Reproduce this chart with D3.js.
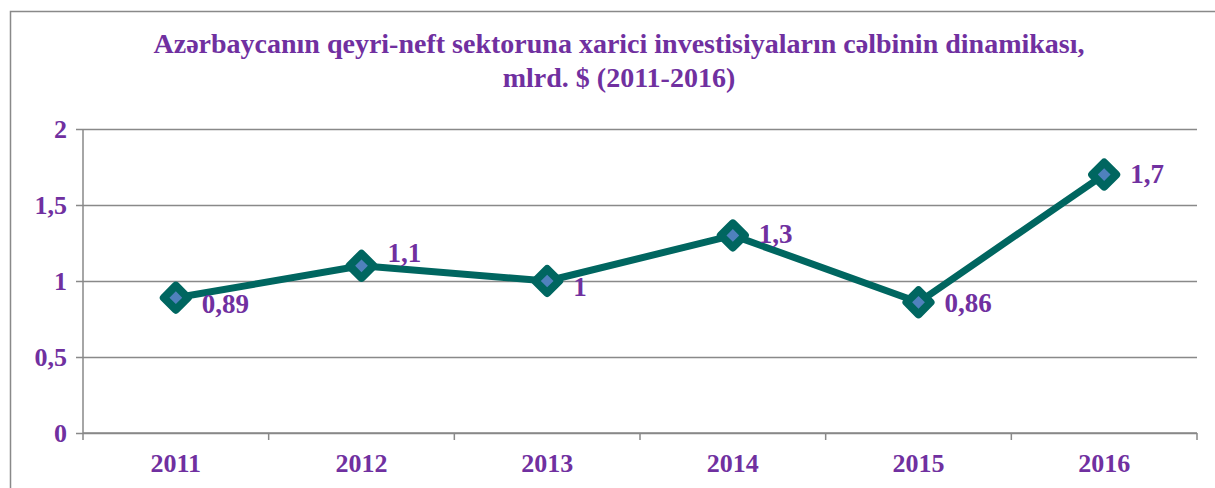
<!DOCTYPE html>
<html>
<head>
<meta charset="utf-8">
<script src="https://cdn.jsdelivr.net/npm/d3@7"></script>
<style>
  body { margin: 0; background: #fff; }
  text { font-family: "Liberation Serif", "Times New Roman", serif; font-weight: bold; fill: #7030a0; }
</style>
</head>
<body>
<div class="line-chart"></div>
<script>
var years = ['2011', '2012', '2013', '2014', '2015', '2016'];
var values = [0.89, 1.1, 1, 1.3, 0.86, 1.7];
var valueLabels = ['0,89', '1,1', '1', '1,3', '0,86', '1,7'];
var yTicks = [0, 0.5, 1, 1.5, 2];
var titleLines = ['Azərbaycanın qeyri-neft sektoruna xarici investisiyaların cəlbinin dinamikası,', 'mlrd. $ (2011-2016)'];

// small vertical nudges so labels sit like the original
var labelNudge = [7, -12, 7, 0, 2, 0];

var W = 1215, H = 488;
var margin = { top: 129, right: 18, bottom: 55, left: 83 };
var width = W - margin.left - margin.right;
var height = H - margin.top - margin.bottom;

var svg = d3.select('.line-chart').append('svg')
    .attr('width', W)
    .attr('height', H);

// outer frame
svg.append('rect')
    .attr('x', 10.5).attr('y', 11.5)
    .attr('width', W + 20).attr('height', H + 20)
    .attr('fill', 'none')
    .attr('stroke', '#898989')
    .attr('stroke-width', 1.5);

svg.append('text')
    .attr('x', 619)
    .attr('y', 53)
    .attr('text-anchor', 'middle')
    .style('font-size', '28px')
  .selectAll('tspan')
  .data(titleLines)
  .enter().append('tspan')
    .attr('x', 619)
    .attr('dy', function(d, i) { return i ? 34 : 0; })
    .text(function(d) { return d; });

var g = svg.append('g')
    .attr('transform', 'translate(' + margin.left + ',' + margin.top + ')');

var xScale = d3.scaleBand()
    .domain(years)
    .range([0, width]);

var yScale = d3.scaleLinear()
    .domain([0, 2])
    .range([height, 0]);

// gridlines + y axis
var yAxis = g.append('g')
    .attr('class', 'y axis')
    .call(d3.axisLeft(yScale)
      .tickValues(yTicks)
      .tickSize(-width)
      .tickPadding(16)
      .tickFormat(function(d) { return String(d).replace('.', ','); }));
yAxis.select('.domain').attr('stroke', '#898989').attr('stroke-width', 1.5).attr('d', 'M0,' + height + 'V0');
yAxis.selectAll('.tick line').attr('stroke', '#898989').attr('stroke-width', 1.5).attr('x1', -7);
yAxis.selectAll('.tick text').style('font-size', '26px').attr('fill', null).attr('dy', '0.32em');

// x axis with ticks between categories
var xAxis = g.append('g')
    .attr('class', 'x axis')
    .attr('transform', 'translate(0,' + height + ')');
xAxis.append('line')
    .attr('x1', 0).attr('x2', width)
    .attr('stroke', '#898989').attr('stroke-width', 1.5);
xAxis.selectAll('.sep')
  .data(d3.range(years.length + 1))
  .enter().append('line')
    .attr('x1', function(i) { return i * xScale.step(); })
    .attr('x2', function(i) { return i * xScale.step(); })
    .attr('y1', 0).attr('y2', 7)
    .attr('stroke', '#898989').attr('stroke-width', 1.5);
xAxis.selectAll('.lbl')
  .data(years)
  .enter().append('text')
    .attr('x', function(d) { return xScale(d) + xScale.bandwidth() / 2; })
    .attr('y', 39)
    .attr('text-anchor', 'middle')
    .style('font-size', '26px')
    .text(function(d) { return d; });

var pts = years.map(function(y, i) { return { year: y, value: values[i], label: valueLabels[i], nudge: labelNudge[i] }; });

var line = d3.line()
    .x(function(d) { return xScale(d.year) + xScale.bandwidth() / 2; })
    .y(function(d) { return yScale(d.value); });

g.append('path')
    .datum(pts)
    .attr('d', line)
    .attr('fill', 'none')
    .attr('stroke', '#006660')
    .attr('stroke-width', 7)
    .attr('stroke-linejoin', 'round');

var s = 17;
g.selectAll('.marker')
  .data(pts)
  .enter().append('rect')
    .attr('x', -s / 2).attr('y', -s / 2)
    .attr('width', s).attr('height', s)
    .attr('transform', function(d) {
      return 'translate(' + (xScale(d.year) + xScale.bandwidth() / 2) + ',' + yScale(d.value) + ') rotate(45)';
    })
    .attr('fill', '#4f81bd')
    .attr('stroke', '#006660')
    .attr('stroke-width', 8)
    .attr('stroke-linejoin', 'round');

g.selectAll('.vlabel')
  .data(pts)
  .enter().append('text')
    .attr('x', function(d) { return xScale(d.year) + xScale.bandwidth() / 2 + 26; })
    .attr('y', function(d) { return yScale(d.value) + 8 + d.nudge; })
    .style('font-size', '27px')
    .text(function(d) { return d.label; });
</script>
</body>
</html>
